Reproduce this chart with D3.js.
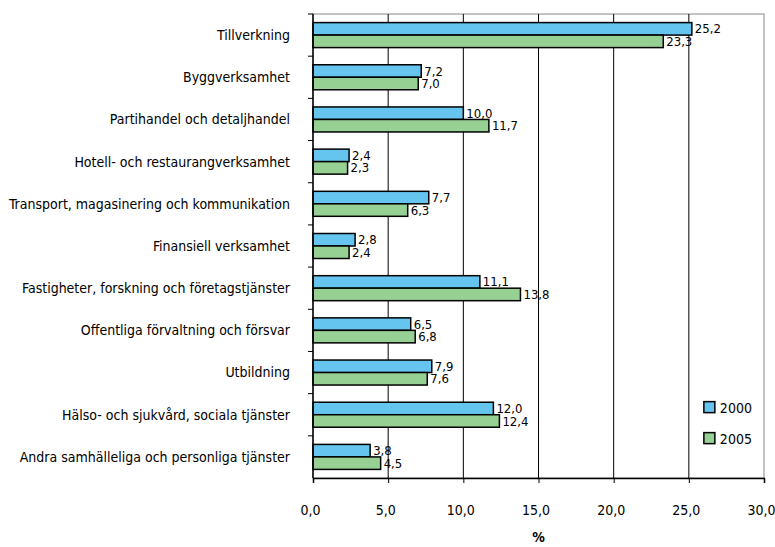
<!DOCTYPE html>
<html>
<head>
<meta charset="utf-8">
<script src="https://cdn.jsdelivr.net/npm/d3@7"></script>
<style>
  body { margin: 0; background: #fff; }
  text { font-family: "DejaVu Sans Condensed", "DejaVu Sans", sans-serif; fill: #000; }
</style>
</head>
<body>
<div id="chart"></div>
<script>
// Data
var categories = [
  "Tillverkning",
  "Byggverksamhet",
  "Partihandel och detaljhandel",
  "Hotell- och restaurangverksamhet",
  "Transport, magasinering och kommunikation",
  "Finansiell verksamhet",
  "Fastigheter, forskning och företagstjänster",
  "Offentliga förvaltning och försvar",
  "Utbildning",
  "Hälso- och sjukvård, sociala tjänster",
  "Andra samhälleliga och personliga tjänster"
];
var values2000 = [25.2, 7.2, 10.0, 2.4, 7.7, 2.8, 11.1, 6.5, 7.9, 12.0, 3.8];
var values2005 = [23.3, 7.0, 11.7, 2.3, 6.3, 2.4, 13.8, 6.8, 7.6, 12.4, 4.5];
var seriesNames = ["2000", "2005"];
var xTicks = [0, 5, 10, 15, 20, 25, 30];
var xTitle = "%";

var svgWidth = 775;
var svgHeight = 547;

const margin = { top: 14, right: 11, bottom: 69, left: 313 };
var width = svgWidth - margin.left - margin.right;
var height = svgHeight - margin.top - margin.bottom;

var colors = { "2000": "#66c5ef", "2005": "#96d093" };
var fmt = function(v) { return d3.format(".1f")(v).replace(".", ","); };

var svg = d3.select("#chart")
  .append("svg")
  .attr("width", svgWidth)
  .attr("height", svgHeight);

var chartGroup = svg.append("g")
  .attr("transform", `translate(${margin.left}, ${margin.top})`);

var rows = categories.map(function(c, i) {
  return { cat: c, "2000": values2000[i], "2005": values2005[i] };
});

var xScale = d3.scaleLinear().domain([0, 30]).range([0, width]);
var yScale = d3.scaleBand().domain(categories).range([0, height]);
var bandInner = d3.scaleBand().domain(seriesNames)
  .range([(yScale.bandwidth() - 25) / 2, (yScale.bandwidth() + 25) / 2]);

// plot border (grey top/right)
chartGroup.append("rect")
  .attr("x", 0).attr("y", 0)
  .attr("width", width).attr("height", height)
  .attr("fill", "none")
  .attr("stroke", "#b0b0b0")
  .attr("stroke-width", 1.5);

// vertical gridlines
chartGroup.append("g")
  .selectAll("line")
  .data(xTicks.slice(1, -1))
  .enter()
  .append("line")
  .attr("x1", d => xScale(d)).attr("x2", d => xScale(d))
  .attr("y1", 0).attr("y2", height)
  .attr("stroke", "#000")
  .attr("stroke-width", 1);

// bars
var groups = chartGroup.selectAll(".cat")
  .data(rows)
  .enter()
  .append("g")
  .attr("transform", d => `translate(0, ${yScale(d.cat)})`);

seriesNames.forEach(function(s) {
  groups.append("rect")
    .attr("x", 0)
    .attr("y", bandInner(s))
    .attr("width", d => xScale(d[s]))
    .attr("height", bandInner.bandwidth())
    .attr("fill", colors[s])
    .attr("stroke", "#000")
    .attr("stroke-width", 1.5);

  groups.append("text")
    .attr("x", d => xScale(d[s]) + 3)
    .attr("y", bandInner(s) + bandInner.bandwidth() / 2)
    .attr("dy", "0.35em")
    .attr("font-size", "13px")
    .text(d => fmt(d[s]));
});

// x axis
var xAxis = d3.axisBottom(xScale)
  .tickValues(xTicks)
  .tickFormat(fmt)
  .tickSize(5)
  .tickPadding(22);
var xg = chartGroup.append("g")
  .attr("transform", `translate(0, ${height})`)
  .call(xAxis);
xg.select(".domain").attr("stroke-width", 1.5);
xg.selectAll("text")
  .attr("font-size", "14px")
  .attr("font-family", null)
  .attr("dx", -3);

// y axis: ticks at category boundaries
var yAxisG = chartGroup.append("g");
yAxisG.append("line")
  .attr("x1", 0).attr("x2", 0).attr("y1", 0).attr("y2", height)
  .attr("stroke", "#000").attr("stroke-width", 1.5);
yAxisG.selectAll(".ytick")
  .data(categories)
  .enter()
  .append("line")
  .attr("x1", -5).attr("x2", 0)
  .attr("y1", d => yScale(d)).attr("y2", d => yScale(d))
  .attr("stroke", "#000");
yAxisG.selectAll(".ylabel")
  .data(categories)
  .enter()
  .append("text")
  .attr("x", -23)
  .attr("y", d => yScale(d) + yScale.bandwidth() / 2)
  .attr("dy", "0.35em")
  .attr("text-anchor", "end")
  .attr("font-size", "14px")
  .text(d => d);

// axis title
chartGroup.append("text")
  .attr("x", width / 2)
  .attr("y", height + 64)
  .attr("text-anchor", "middle")
  .attr("font-size", "14px")
  .attr("font-weight", "bold")
  .text(xTitle);

// legend
var legend = chartGroup.append("g")
  .attr("transform", `translate(${xScale(26)}, ${yScale(categories[9]) + 8})`);
seriesNames.forEach(function(s, i) {
  var lg = legend.append("g").attr("transform", `translate(0, ${i * 31})`);
  lg.append("rect")
    .attr("x", 0).attr("y", 0)
    .attr("width", 11).attr("height", 11)
    .attr("fill", colors[s])
    .attr("stroke", "#000")
    .attr("stroke-width", 1.5);
  lg.append("text")
    .attr("x", 16).attr("y", 6)
    .attr("dy", "0.35em")
    .attr("font-size", "14px")
    .text(s);
});
</script>
</body>
</html>
